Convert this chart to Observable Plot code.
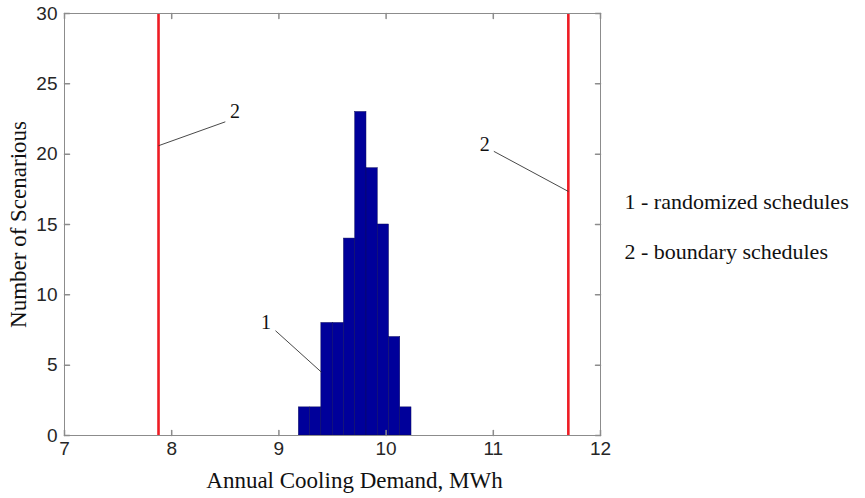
<!DOCTYPE html>
<html>
<head>
<meta charset="utf-8">
<script src="https://cdn.jsdelivr.net/npm/d3@7"></script>
<script src="https://cdn.jsdelivr.net/npm/@observablehq/plot@0.6"></script>
<style>
  html, body { margin: 0; padding: 0; background: #fff; }
</style>
</head>
<body>
<div id="chart"></div>
<script>
// Histogram bin edges (MWh) and counts
const binEdges = [9.186, 9.291, 9.396, 9.502, 9.607, 9.712, 9.817, 9.922, 10.027, 10.132, 10.237];
const counts = [2, 2, 8, 8, 14, 23, 19, 15, 7, 2];
// Boundary schedules (red vertical lines)
const boundaryValues = [7.877, 11.70];
// Tick labels
const xTicks = [7, 8, 9, 10, 11, 12];
const yTicks = [0, 5, 10, 15, 20, 25, 30];
// Annotation leader lines and labels
const leaders = [
  {x1: 7.877, y1: 20.6, x2: 8.50, y2: 22.3},
  {x1: 11.005, y1: 20.2, x2: 11.70, y2: 17.35},
  {x1: 8.968, y1: 7.45, x2: 9.397, y2: 4.5}
];
const leaderLabels = [
  {x: 8.59, y: 23.0, text: "2"},
  {x: 10.92, y: 20.7, text: "2"},
  {x: 8.88, y: 8.05, text: "1"}
];
const legendLines = ["1 - randomized schedules", "2 - boundary schedules"];

const bins = counts.map((c, i) => ({x1: binEdges[i], x2: binEdges[i + 1], y: c}));

const tickShape = {draw(ctx, l) { ctx.moveTo(0, 0); ctx.lineTo(0, -l); }};
const serif = "'Liberation Serif', 'Times New Roman', serif";
const sans = "'Liberation Sans', Arial, sans-serif";

const chart = Plot.plot({
  width: 865,
  height: 498,
  marginLeft: 64,
  marginRight: 265,
  marginTop: 13,
  marginBottom: 63,
  style: {background: "#fff", overflow: "visible"},
  x: {domain: [7, 12]},
  y: {domain: [0, 30]},
  marks: [
    Plot.rectY(bins, {x1: "x1", x2: "x2", y: "y", fill: "#00009a", stroke: "#0b0b5e", strokeWidth: 0.5}),
    Plot.ruleX(boundaryValues, {stroke: "#ee1c24", strokeWidth: 2.6}),
    Plot.link(leaders, {x1: "x1", y1: "y1", x2: "x2", y2: "y2", stroke: "#333", strokeWidth: 0.9}),
    Plot.text(leaderLabels, {x: "x", y: "y", text: "text", fontFamily: serif, fontSize: 20, fill: "#111"}),
    Plot.frame({stroke: "#8c8c8c", strokeWidth: 1}),
    // inward ticks
    Plot.vector(xTicks, {x: d => d, frameAnchor: "bottom", length: 5, rotate: 0, anchor: "start", shape: tickShape, stroke: "#8c8c8c"}),
    Plot.vector(xTicks, {x: d => d, frameAnchor: "top", length: 5, rotate: 180, anchor: "start", shape: tickShape, stroke: "#8c8c8c"}),
    Plot.vector(yTicks, {y: d => d, frameAnchor: "left", length: 5, rotate: 90, anchor: "start", shape: tickShape, stroke: "#8c8c8c"}),
    Plot.vector(yTicks, {y: d => d, frameAnchor: "right", length: 5, rotate: -90, anchor: "start", shape: tickShape, stroke: "#8c8c8c"}),
    Plot.axisX({ticks: xTicks, tickFormat: d => String(d), tickSize: 0, tickPadding: 6, label: null, fontSize: 19, fontFamily: sans, color: "#262626"}),
    Plot.axisY({ticks: yTicks, tickFormat: d => String(d), tickSize: 0, tickPadding: 7, label: null, fontSize: 19, fontFamily: sans, color: "#262626"}),
    Plot.text(["Annual Cooling Demand, MWh"], {frameAnchor: "bottom", dx: 22, dy: 52, fontFamily: serif, fontSize: 23, fill: "#111"}),
    Plot.text(["Number of Scenarious"], {frameAnchor: "left", dx: -46, rotate: -90, textAnchor: "middle", fontFamily: serif, fontSize: 23, fill: "#111"}),
    Plot.text([legendLines[0]], {frameAnchor: "top-right", dx: 24, dy: 180, textAnchor: "start", fontFamily: serif, fontSize: 22, fill: "#111"}),
    Plot.text([legendLines[1]], {frameAnchor: "top-right", dx: 24, dy: 230, textAnchor: "start", fontFamily: serif, fontSize: 22, fill: "#111"})
  ]
});
document.getElementById("chart").appendChild(chart);
</script>
</body>
</html>
